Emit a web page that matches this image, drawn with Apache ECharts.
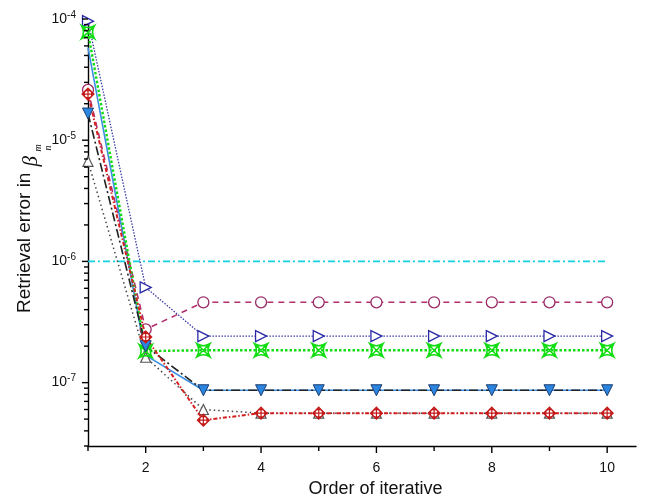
<!DOCTYPE html>
<html>
<head>
<meta charset="utf-8">
<script src="https://cdn.jsdelivr.net/npm/echarts@6/dist/echarts.min.js"></script>
<style>
    html, body { margin: 0; padding: 0; background: #fff; }
    #main { width: 649px; height: 500px; }
</style>
</head>
<body>
<div id="main"></div>
<script>
    // 迭代次数
    const iterations = [1, 2, 3, 4, 5, 6, 7, 8, 9, 10];

    // 各条曲线的反演误差
    const cyanErr    = [1.0e-6, 1.0e-6, 1.0e-6, 1.0e-6, 1.0e-6, 1.0e-6, 1.0e-6, 1.0e-6, 1.0e-6, 1.0e-6];
    const circleErr  = [2.6e-5, 2.75e-7, 4.6e-7, 4.6e-7, 4.6e-7, 4.6e-7, 4.6e-7, 4.6e-7, 4.6e-7, 4.6e-7];
    const rightTriErr = [9.6e-5, 6.1e-7, 2.42e-7, 2.42e-7, 2.42e-7, 2.42e-7, 2.42e-7, 2.42e-7, 2.42e-7, 2.42e-7];
    const crossErr   = [7.8e-5, 1.82e-7, 1.85e-7, 1.85e-7, 1.85e-7, 1.85e-7, 1.85e-7, 1.85e-7, 1.85e-7, 1.85e-7];
    const blueErr    = [5.8e-5, 1.68e-7, 8.65e-8, 8.65e-8, 8.65e-8, 8.65e-8, 8.65e-8, 8.65e-8, 8.65e-8, 8.65e-8];
    const dashDotErr = [1.66e-5, 2.0e-7, 8.65e-8, 8.65e-8, 8.65e-8, 8.65e-8, 8.65e-8, 8.65e-8, 8.65e-8, 8.65e-8];
    const upTriErr   = [6.7e-6, 1.62e-7, 6.0e-8, 5.6e-8, 5.6e-8, 5.6e-8, 5.6e-8, 5.6e-8, 5.6e-8, 5.6e-8];
    const diamondErr = [2.4e-5, 2.38e-7, 4.9e-8, 5.6e-8, 5.6e-8, 5.6e-8, 5.6e-8, 5.6e-8, 5.6e-8, 5.6e-8];

    // 坐标轴刻度
    const xMajorTicks = [2, 4, 6, 8, 10];
    const xMinorTicks = [1, 3, 5, 7, 9];
    const yMajorTicks = [1e-7, 1e-6, 1e-5, 1e-4];
    const yMinorTicks = [3e-8, 4e-8, 5e-8, 6e-8, 7e-8, 8e-8, 9e-8,
        2e-7, 3e-7, 4e-7, 5e-7, 6e-7, 7e-7, 8e-7, 9e-7,
        2e-6, 3e-6, 4e-6, 5e-6, 6e-6, 7e-6, 8e-6, 9e-6,
        2e-5, 3e-5, 4e-5, 5e-5, 6e-5, 7e-5, 8e-5, 9e-5];

    const X_MIN = 1, X_MAX = 10.5, Y_MIN = 3e-8, Y_MAX = 1e-4;
    const FONT = '"Liberation Sans", Arial, sans-serif';

    function pairs(arr) {
        return iterations.map((x, i) => [x, arr[i]]);
    }

    // 刻度线（画在轴外侧）
    function yTickSeries(ticks, len) {
        return {
            type: 'custom', silent: true, clip: false, z: 10,
            data: ticks.map(v => [X_MIN, v]),
            renderItem(params, api) {
                let p = api.coord([X_MIN, api.value(1)]);
                return {
                    type: 'line',
                    shape: {x1: p[0] - len, y1: p[1], x2: p[0], y2: p[1]},
                    style: {stroke: '#000', lineWidth: 1.4}
                };
            }
        };
    }
    function xTickSeries(ticks, len) {
        return {
            type: 'custom', silent: true, clip: false, z: 10,
            data: ticks.map(v => [v, Y_MIN]),
            renderItem(params, api) {
                let p = api.coord([api.value(0), Y_MIN]);
                return {
                    type: 'line',
                    shape: {x1: p[0], y1: p[1], x2: p[0], y2: p[1] + len},
                    style: {stroke: '#000', lineWidth: 1.4}
                };
            }
        };
    }

    const pathCircle = 'path://M1,5 A4,4 0 1 1 9,5 A4,4 0 1 1 1,5 Z';
    const pathRightTri = 'path://M0,0 L10,5 L0,10 Z';
    const pathDownTri = 'path://M0,0 L10,0 L5,10 Z';
    const pathCrossBox = 'path://M0,0 L10,10 M10,0 L0,10 M0,0 Q5,3 10,0 Q7,5 10,10 Q5,7 0,10 Q3,5 0,0 Z';
    const pathCirclePlus = 'path://M5,0 L10,5 L5,10 L0,5 Z M1.8,5 A3.2,3.2 0 1 1 8.2,5 A3.2,3.2 0 1 1 1.8,5 Z M5,0 L5,10 M0,5 L10,5';

    // y 轴标题（带希腊字母和上下标）
    const ctx = document.createElement('canvas').getContext('2d');
    ctx.font = '19px ' + FONT;
    const titleW = ctx.measureText('Retrieval error in').width;

    let myChart = echarts.init(document.getElementById('main'));
    let opt = {
        animation: false,
        grid: {left: 88, right: 13, top: 19, bottom: 54, outerBoundsMode: 'none', containLabel: false},
        xAxis: {
            type: 'value', min: X_MIN, max: X_MAX, interval: 1,
            name: 'Order of iterative', nameLocation: 'middle', nameGap: 33,
            nameTextStyle: {fontFamily: FONT, fontSize: 18, color: '#111', padding: [0, 0, 0, 27]},
            axisLine: {lineStyle: {color: '#000', width: 1.4}},
            axisTick: {show: false},
            splitLine: {show: false},
            axisLabel: {
                fontFamily: FONT, fontSize: 14, color: '#111', margin: 15,
                formatter: v => (v % 2 === 0 && v <= 10) ? String(v) : ''
            }
        },
        yAxis: {
            type: 'log', logBase: 10, min: Y_MIN, max: Y_MAX,
            axisLine: {lineStyle: {color: '#000', width: 1.4}},
            axisTick: {show: false},
            splitLine: {show: false},
            minorTick: {show: false},
            axisLabel: {
                fontFamily: FONT, color: '#111', margin: 12,
                formatter: v => {
                    let e = Math.round(Math.log10(v));
                    if (Math.abs(v / Math.pow(10, e) - 1) > 1e-6) return '';
                    return '{b|10}{s|' + e + '}';
                },
                rich: {
                    b: {fontFamily: FONT, fontSize: 14, lineHeight: 18, color: '#111'},
                    s: {fontFamily: FONT, fontSize: 10, lineHeight: 10, verticalAlign: 'top', color: '#111'}
                }
            }
        },
        graphic: [{
            type: 'group', x: 25, y: 313, rotation: Math.PI / 2,
            children: [
                {type: 'text', x: 0, y: 0, style: {text: 'Retrieval error in', font: '19px ' + FONT, fill: '#111', verticalAlign: 'middle'}},
                {type: 'text', x: titleW + 6, y: 6, style: {text: 'β', font: 'italic 21px "Liberation Serif", serif', fill: '#111', verticalAlign: 'middle'}},
                {type: 'text', x: titleW + 21, y: 13, style: {text: 'm', font: 'italic 10px "Liberation Serif", serif', fill: '#111', verticalAlign: 'middle'}},
                {type: 'text', x: titleW + 22, y: 23, style: {text: 'n', font: 'italic 10px "Liberation Serif", serif', fill: '#111', verticalAlign: 'middle'}}
            ]
        }],
        series: [
            {
                type: 'line', data: pairs(cyanErr), showSymbol: false, z: 2,
                lineStyle: {color: '#12d2e2', width: 1.6, type: [7, 3, 2, 3]}
            },
            {
                type: 'line', data: pairs(circleErr), symbol: pathCircle, symbolSize: 11, z: 3,
                lineStyle: {color: '#b3306e', width: 1.6, type: [6, 5]},
                itemStyle: {color: '#fff', borderColor: '#9a2a66', borderWidth: 1.3}
            },
            {
                type: 'line', data: pairs(rightTriErr), symbol: pathRightTri, symbolSize: 11, z: 3,
                lineStyle: {color: '#3a3aa6', width: 1.3, type: [1.5, 1.5]},
                itemStyle: {color: '#fff', borderColor: '#2a2aa8', borderWidth: 1.3}
            },
            {
                type: 'line', data: pairs(crossErr), symbol: pathCrossBox, symbolSize: 13, z: 4,
                lineStyle: {color: '#12dc12', width: 2.4, type: [2.5, 2]},
                itemStyle: {color: 'rgba(0,0,0,0)', borderColor: '#12dc12', borderWidth: 1.6}
            },
            {
                type: 'line', data: pairs(blueErr), showSymbol: false, z: 3,
                lineStyle: {color: '#3b8fe2', width: 1.6}
            },
            {
                type: 'line', data: pairs(dashDotErr), symbol: pathDownTri, symbolSize: 11, z: 4,
                lineStyle: {color: '#222', width: 1.6, type: [9, 3, 2, 3]},
                itemStyle: {color: '#2a86e0', borderColor: '#1d3d70', borderWidth: 1}
            },
            {
                type: 'line', data: pairs(upTriErr), symbol: 'triangle', symbolSize: 10, z: 3,
                lineStyle: {color: '#444', width: 1.5, type: [1.5, 3]},
                itemStyle: {color: '#fff', borderColor: '#555', borderWidth: 1.2}
            },
            {
                type: 'line', data: pairs(diamondErr), symbol: pathCirclePlus, symbolSize: 12, z: 4,
                lineStyle: {color: '#d42020', width: 2, type: [4, 2, 1.5, 2]},
                itemStyle: {color: '#fff', borderColor: '#c41818', borderWidth: 1.2}
            },
            yTickSeries(yMajorTicks, 6),
            yTickSeries(yMinorTicks, 4),
            xTickSeries(xMajorTicks, 7),
            xTickSeries(xMinorTicks, 5)
        ]
    };
    myChart.setOption(opt);
</script>
</body>
</html>
